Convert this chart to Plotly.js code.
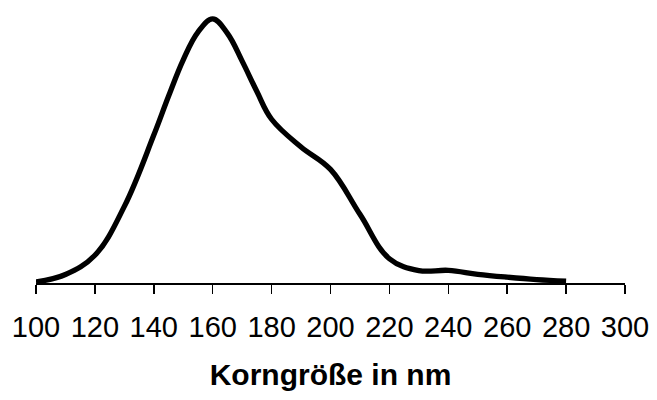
<!DOCTYPE html>
<html>
<head>
<meta charset="utf-8">
<script src="https://cdn.plot.ly/plotly-3.0.1.min.js"></script>
<style>
  html, body { margin: 0; padding: 0; background: #fff; }
  #chart { width: 657px; height: 400px; }
</style>
</head>
<body>
<div id="chart"></div>
<script>
// Korngrößenverteilung (relative Häufigkeit, willkürliche Einheiten)
const korngroesse = [100, 110, 120, 130, 140, 145, 150, 155, 160, 165, 170, 175, 180, 190, 200, 210, 220, 230, 240, 250, 260, 270, 280];
const haeufigkeit = [0.04, 0.32, 1.05, 2.9, 5.6, 7.07, 8.45, 9.5, 10.0, 9.45, 8.4, 7.25, 6.2, 5.15, 4.3, 2.6, 0.92, 0.47, 0.48, 0.33, 0.22, 0.13, 0.07];
const tickWerte = [100, 120, 140, 160, 180, 200, 220, 240, 260, 280, 300];

const trace = {
  x: korngroesse,
  y: haeufigkeit,
  type: 'scatter',
  mode: 'lines',
  line: { color: '#000', width: 5.3, shape: 'spline', smoothing: 1.1 },
  cliponaxis: false,
  hoverinfo: 'skip'
};

const layout = {
  width: 657,
  height: 400,
  margin: { l: 36, r: 32, t: 7, b: 117 },
  paper_bgcolor: '#fff',
  plot_bgcolor: '#fff',
  showlegend: false,
  font: { family: 'Liberation Sans, Arial, sans-serif', color: '#000' },
  xaxis: {
    range: [100, 300],
    tickvals: tickWerte,
    ticktext: tickWerte.map(String),
    ticks: 'outside',
    ticklen: 9,
    tickwidth: 1.5,
    tickcolor: '#000',
    showline: true,
    linecolor: '#000',
    linewidth: 2,
    showgrid: false,
    zeroline: false,
    tickfont: { size: 29, color: '#000' },
    ticklabelstandoff: 8,
    title: {
      text: 'Korngröße in nm',
      font: { size: 30, color: '#000', family: 'Liberation Sans, Arial, sans-serif', weight: 'bold' },
      standoff: 22
    }
  },
  yaxis: {
    range: [0, 10.45],
    visible: false,
    showgrid: false,
    zeroline: false
  }
};

Plotly.newPlot('chart', [trace], layout, { staticPlot: true, displayModeBar: false });
</script>
</body>
</html>
